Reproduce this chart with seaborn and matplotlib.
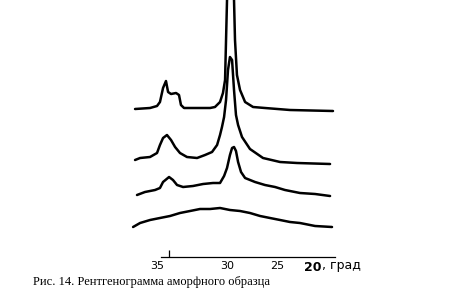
import matplotlib
matplotlib.use("Agg")
import matplotlib.pyplot as plt
import seaborn as sns

# 2-theta (deg) and stacked intensity (arb. units) for the four diffractograms
x1 = [36.57, 35.50, 35.00, 34.79, 34.57, 34.36, 34.21, 34.00, 33.64, 33.43, 33.29, 33.07,
      31.93, 31.21, 30.86, 30.50, 30.29, 30.14, 30.00, 29.75, 29.50, 29.43, 29.29, 29.07,
      28.71, 28.14, 27.29, 25.50, 22.43]
y1 = [148, 149, 151, 155, 169, 176, 165, 163, 164, 162, 152, 149,
      149, 149, 150, 155, 164, 177, 257, 297, 257, 217, 182, 167,
      155, 150, 149, 147, 146]

x2 = [36.57, 36.21, 35.50, 35.00, 34.79, 34.57, 34.29, 34.00, 33.71, 33.36, 32.86, 32.14,
      31.57, 31.07, 30.71, 30.50, 30.36, 30.21, 30.07, 29.93, 29.79, 29.64, 29.50, 29.36,
      29.21, 28.93, 28.36, 27.43, 26.21, 25.00, 22.64]
y2 = [97, 99, 100, 104, 112, 119, 122, 117, 110, 104, 100, 99,
      102, 105, 112, 122, 130, 140, 157, 187, 200, 197, 167, 142,
      132, 120, 108, 99, 95, 94, 93]

x3 = [36.43, 35.86, 35.14, 34.79, 34.57, 34.14, 33.86, 33.57, 33.14, 32.43, 31.71, 31.00,
      30.50, 30.21, 30.00, 29.79, 29.64, 29.50, 29.36, 29.21, 29.00, 28.71, 28.00, 27.29,
      26.57, 25.86, 24.79, 23.71, 22.64]
y3 = [62, 65, 67, 69, 75, 80, 77, 72, 70, 71, 73, 74,
      74, 81, 89, 102, 109, 110, 106, 95, 85, 79, 75, 72,
      70, 67, 64, 63, 61]

x4 = [36.71, 36.21, 35.50, 34.79, 34.07, 33.36, 32.64, 31.93, 31.21, 30.50, 29.79, 29.07,
      28.36, 27.64, 26.93, 26.21, 25.50, 24.79, 23.71, 22.50]
y4 = [30, 34, 37, 39, 41, 44, 46, 48, 48, 49, 47, 46,
      44, 41, 39, 37, 35, 34, 31, 30]

tick_pos = [35.0, 30.0, 26.43, 23.89]
tick_labels = ["35", "30", "25", "20"]
caption = "Рис. 14. Рентгенограмма аморфного образца"

sns.set_theme(style="white")
plt.rcParams["font.family"] = ["DejaVu Sans"]

fig = plt.figure(figsize=(4.71, 3.08), dpi=100)
ax = fig.add_axes([130 / 471, 51 / 308, 210 / 471, 257 / 308])
ax.patch.set_alpha(0)

for xs, ys in [(x1, y1), (x2, y2), (x3, y3), (x4, y4)]:
    sns.lineplot(x=xs, y=ys, ax=ax, color="black", linewidth=1.8,
                 clip_on=False, sort=False, estimator=None)

ax.set_xlim(36.93, 21.93)
ax.set_ylim(0, 257)
for s in ["top", "left", "right"]:
    ax.spines[s].set_visible(False)
ax.spines["bottom"].set_color("black")
ax.spines["bottom"].set_linewidth(0.9)
ax.spines["bottom"].set_bounds(34.71, 22.29)
ax.set_yticks([])

ax.set_xticks(tick_pos)
ax.set_xticklabels(tick_labels)
ax.set_xticks([34.14], minor=True)
ax.tick_params(axis="x", which="major", length=0, pad=3, labelsize=8, colors="black")
ax.tick_params(axis="x", which="minor", length=5, width=0.9, direction="in",
               bottom=True, color="black")
labs = ax.get_xticklabels()
labs[3].set_fontweight("bold")
labs[3].set_fontsize(9)
ax.set_xlabel("")

ax.text(23.22, -0.035, ", град", transform=ax.get_xaxis_transform(),
        ha="left", va="center", fontsize=9, color="black")

fig.text(33 / 471, 1 - 282 / 308, caption, ha="left", va="center",
         fontsize=9, family="Liberation Serif", color="black")

fig.savefig("out.png", dpi=100)
